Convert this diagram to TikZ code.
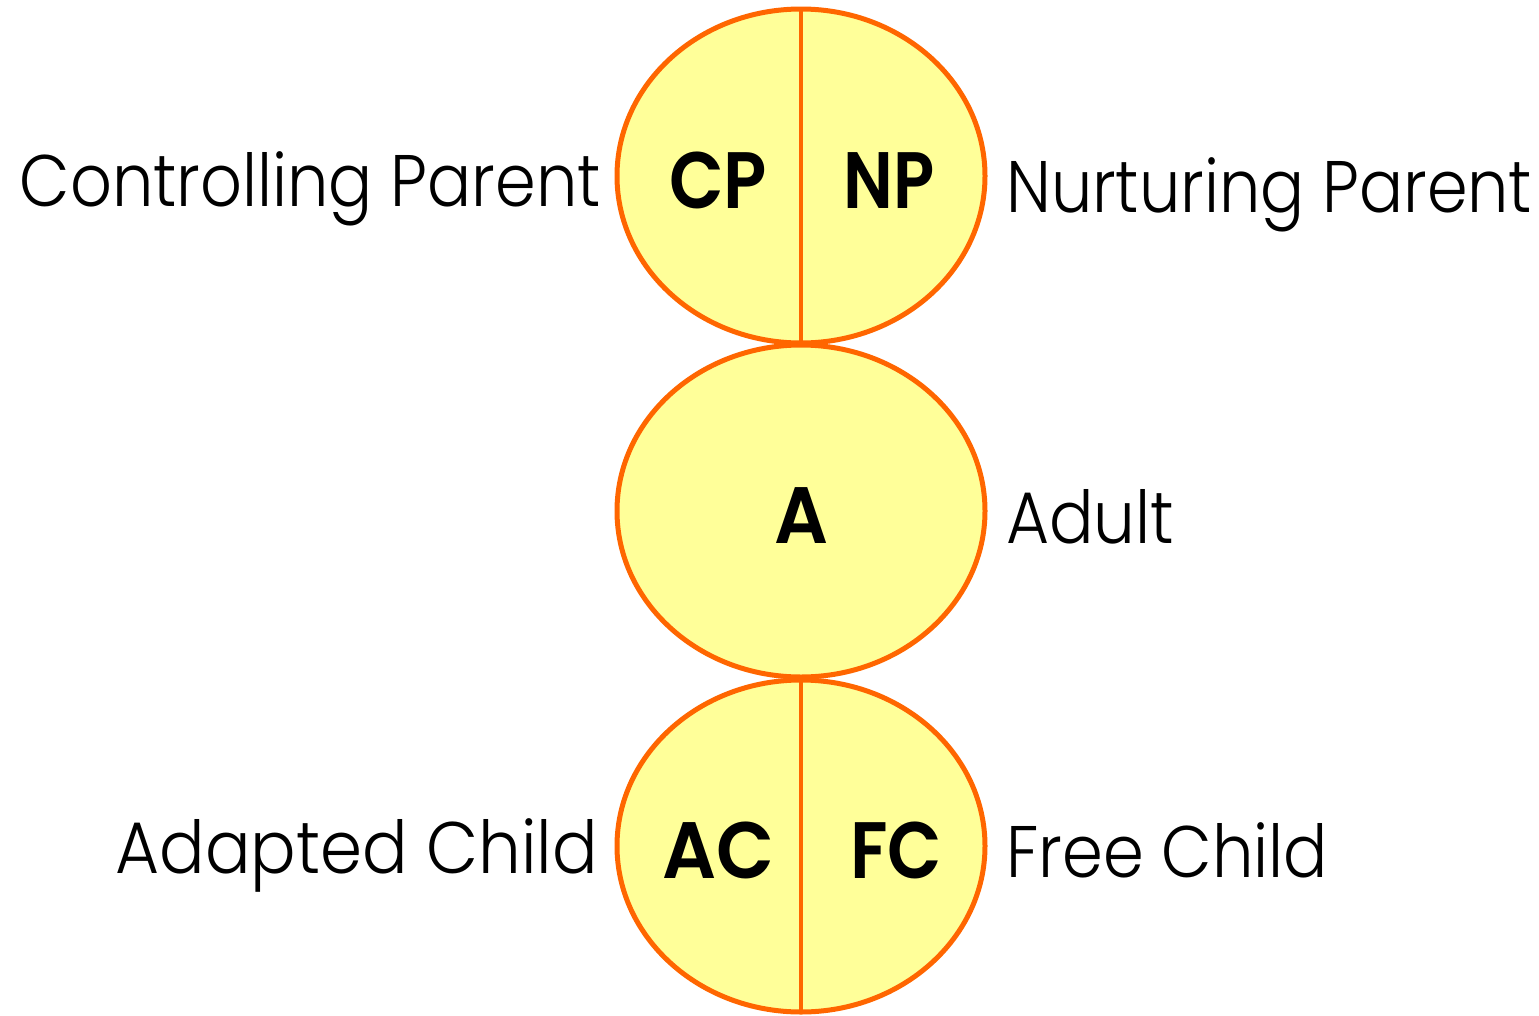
\documentclass[tikz,border=0pt]{standalone}
\usepackage{fontspec}
\setmainfont{Poppins}
\newfontfamily\lblfont{Poppins Light}
\newfontfamily\boldfont{Poppins SemiBold}
\definecolor{egofill}{HTML}{FFFF99}
\definecolor{egoline}{HTML}{FF6600}
\newcommand{\fitw}[2]{\resizebox{#1}{\height}{#2}}
\begin{document}
\begin{tikzpicture}[x=1pt,y=-1pt,
  egostate/.style={draw=egoline,fill=egofill,line width=5pt},
  divider/.style={draw=egoline,line width=4.5pt},
  lbl/.style={inner sep=0pt,font=\lblfont\fontsize{73}{80}\selectfont},
  abbr/.style={inner sep=0pt,anchor=base,font=\boldfont\fontsize{80}{88}\selectfont}]
\useasboundingbox (0,0) rectangle (1539,1015);
% ego states
\draw[egostate] (801,176) ellipse [x radius=184, y radius=167];
\draw[egostate] (801,846) ellipse [x radius=184, y radius=166];
\draw[egostate] (801,511) ellipse [x radius=184, y radius=166];
\coordinate (pt) at (801,9);
\coordinate (pb) at (801,343);
\coordinate (ct) at (801,680);
\coordinate (cb) at (801,1012);
\draw[divider] (pt) -- (pb);
\draw[divider] (ct) -- (cb);
% abbreviations
\node[abbr] (cp) at (718,208) {\fitw{98pt}{CP}};
\node[abbr] (np) at (889,208) {\fitw{91pt}{NP}};
\node[abbr] (a) at (801,543) {\fitw{54pt}{A}};
\node[abbr] (ac) at (718,878) {\fitw{112pt}{AC}};
\node[abbr] (fc) at (896,878) {\fitw{92pt}{FC}};
% labels
\node[lbl,anchor=base east] (lcp) at (601,206) {\fitw{581pt}{Controlling Parent}};
\node[lbl,anchor=base west] (lnp) at (1006,212) {\fitw{526pt}{Nurturing Parent}};
\node[lbl,anchor=base west] (la) at (1006,543) {\fitw{168pt}{Adult}};
\node[lbl,anchor=base east] (lac) at (598,873) {\fitw{482pt}{Adapted Child}};
\node[lbl,anchor=base west] (lfc) at (1006,877) {\fitw{322pt}{Free Child}};
\end{tikzpicture}
\end{document}
